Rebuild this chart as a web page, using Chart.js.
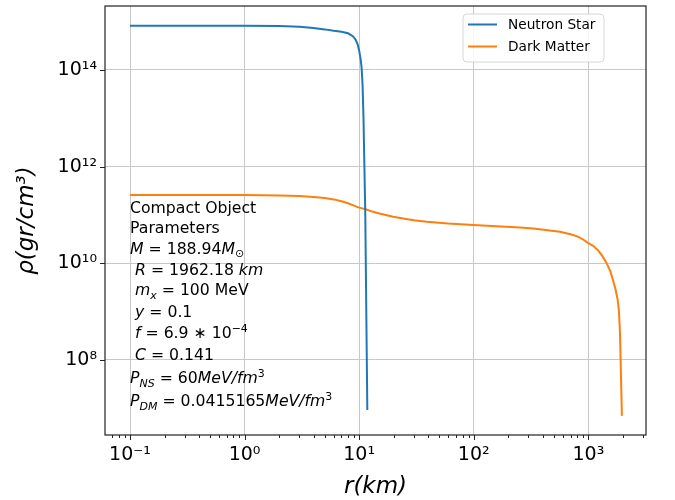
<!DOCTYPE html>
<html>
<head>
<meta charset="utf-8">
<script src="https://cdn.jsdelivr.net/npm/chart.js@4/dist/chart.umd.min.js"></script>
<style>
  html, body { margin: 0; padding: 0; background: #fff; }
  #wrap { width: 675px; height: 500px; }
</style>
</head>
<body>
<div id="wrap"><canvas id="chart" width="675" height="500"></canvas></div>
<script>
// density profiles, r in km, rho in gr/cm^3
const nsRadius = [0.1, 0.5, 1, 2, 3, 4, 5, 6, 7, 8, 8.8, 9.3, 9.7, 10.0, 10.3, 10.5, 10.7, 10.9, 11.3, 11.78];
const nsDensity = [8.26e14, 8.26e14, 8.24e14, 8.13e14, 7.87e14, 7.41e14, 6.92e14, 6.46e14, 6.17e14, 5.75e14,
  5.01e14, 4.27e14, 3.39e14, 2.51e14, 1.66e14, 1.12e14, 5.0e13, 1.07e13, 1.15e11, 9.1e6];

const dmRadius = [0.1, 1, 2, 3, 4, 5, 6, 7, 8, 9, 10, 11.6, 13, 15, 19.8, 25, 30, 39, 60, 99, 253, 331, 565, 700,
  811, 900, 991, 1100, 1213, 1330, 1445, 1550, 1641, 1730, 1803, 1850, 1889, 1962.18];
const dmDensity = [2.57e11, 2.57e11, 2.51e11, 2.45e11, 2.34e11, 2.24e11, 2.09e11, 1.91e11, 1.74e11, 1.55e11,
  1.41e11, 1.29e11, 1.17e11, 1.07e11, 9.12e10, 8.32e10, 7.76e10, 7.24e10, 6.61e10, 6.17e10, 5.5e10, 5.25e10,
  4.47e10, 3.98e10, 3.55e10, 3.09e10, 2.63e10, 2.29e10, 1.86e10, 1.38e10, 1.0e10, 6.92e9, 4.47e9, 2.82e9,
  1.74e9, 1.0e9, 3.55e8, 6.9e6];

const yMajorExponents = [8, 10, 12, 14];

const infoLines = [
  [{t: 'Compact Object'}],
  [{t: 'Parameters'}],
  [{t: 'M', it: true}, {t: ' = 188.94'}, {t: 'M', it: true}, {t: '\u2299', sub: true}],
  [{t: ' '}, {t: 'R', it: true}, {t: ' = 1962.18 '}, {t: 'km', it: true}],
  [{t: ' '}, {t: 'm', it: true}, {t: 'x', it: true, sub: true}, {t: ' = 100 MeV'}],
  [{t: ' '}, {t: 'y', it: true}, {t: ' = 0.1'}],
  [{t: ' '}, {t: 'f', it: true}, {t: ' = 6.9 \u2217 10'}, {t: '\u22124', sup: true}],
  [{t: ' '}, {t: 'C', it: true}, {t: ' = 0.141'}],
  [{t: 'P', it: true}, {t: 'NS', it: true, sub: true}, {t: ' = 60'}, {t: 'MeV/fm', it: true}, {t: '3', sup: true}],
  [{t: 'P', it: true}, {t: 'DM', it: true, sub: true}, {t: ' = 0.0415165'}, {t: 'MeV/fm', it: true}, {t: '3', sup: true}]
];
const infoGaps = [0, 20.5, 20.5, 21, 20.5, 22, 21, 22, 23, 23];

const SUP = {'-': '\u207B', '0': '\u2070', '1': '\u00B9', '2': '\u00B2', '3': '\u00B3', '4': '\u2074',
  '5': '\u2075', '6': '\u2076', '7': '\u2077', '8': '\u2078', '9': '\u2079'};
const pow10Label = e => '10' + String(e).split('').map(c => SUP[c]).join('');
const isDecade = v => Math.abs(Math.log10(v) - Math.round(Math.log10(v))) < 1e-9;

const FONT = '"DejaVu Sans", sans-serif';
const xMin = 0.0605, xMax = 3185;
const yMin = 2.77e6, yMax = 2.11e15;

function xTicks() {
  const out = [];
  for (let e = -2; e <= 3; e++) {
    for (let m = 1; m <= 9; m++) {
      const v = Number((m * Math.pow(10, e)).toPrecision(6));
      if (v >= xMin && v <= xMax) out.push({value: v});
    }
  }
  return out;
}

function drawRuns(ctx, x, y, runs, size) {
  for (const r of runs) {
    const small = r.sub || r.sup;
    const s = small ? size * 0.7 : size;
    ctx.font = (r.it ? 'italic ' : '') + s + 'px ' + FONT;
    const dy = r.sub ? size * 0.22 : r.sup ? -size * 0.42 : 0;
    ctx.fillText(r.t, x, y + dy);
    x += ctx.measureText(r.t).width;
  }
}

// no extra room around the axes for half-labels at the ends
function noScalePadding(scale) {
  scale.paddingTop = 0;
  scale.paddingBottom = 0;
  scale.paddingLeft = 0;
  scale.paddingRight = 0;
}

const decorations = {
  id: 'decorations',
  beforeDraw(chart) {
    const c = chart.ctx;
    c.save();
    c.fillStyle = '#fff';
    c.fillRect(0, 0, chart.width, chart.height);
    c.restore();
  },
  afterDraw(chart) {
    const c = chart.ctx;
    const a = chart.chartArea;
    const xs = chart.scales.x, ys = chart.scales.y;
    c.save();

    // tick marks, outward on the bottom and left spines
    c.strokeStyle = '#222';
    c.lineWidth = 1;
    c.beginPath();
    xs.ticks.forEach(t => {
      const px = Math.round(xs.getPixelForValue(t.value)) + 0.5;
      const len = isDecade(t.value) ? 5 : 3;
      c.moveTo(px, a.bottom);
      c.lineTo(px, a.bottom + len);
    });
    ys.ticks.forEach(t => {
      const py = Math.round(ys.getPixelForValue(t.value)) + 0.5;
      c.moveTo(a.left, py);
      c.lineTo(a.left - 5, py);
    });
    c.stroke();

    // frame
    c.lineWidth = 1.2;
    c.strokeRect(a.left, a.top, a.right - a.left, a.bottom - a.top);

    // parameter text block, anchored in data coordinates
    c.fillStyle = '#000';
    c.textBaseline = 'alphabetic';
    c.textAlign = 'left';
    let ty = ys.getPixelForValue(1.1e11);
    const tx = xs.getPixelForValue(0.1);
    infoLines.forEach((runs, i) => {
      ty += infoGaps[i];
      drawRuns(c, tx, ty, runs, 15.7);
    });

    // legend box
    const lw = 141, lh = 48;
    const lx = a.right - 183, ly = a.top + 8;
    c.beginPath();
    c.roundRect(lx, ly, lw, lh, 4);
    c.fillStyle = 'rgba(255,255,255,0.85)';
    c.fill();
    c.strokeStyle = '#d6d6d6';
    c.lineWidth = 1;
    c.stroke();
    chart.data.datasets.forEach((ds, i) => {
      const cy = ly + 10.5 + i * 22;
      c.strokeStyle = ds.borderColor;
      c.lineWidth = 2;
      c.beginPath();
      c.moveTo(lx + 5, cy);
      c.lineTo(lx + 34, cy);
      c.stroke();
      c.fillStyle = '#000';
      c.font = '13.7px ' + FONT;
      c.textBaseline = 'middle';
      c.fillText(ds.label, lx + 45, cy + 1);
    });
    c.restore();
  }
};

new Chart(document.getElementById('chart'), {
  type: 'scatter',
  data: {
    datasets: [
      {
        label: 'Neutron Star',
        data: nsRadius.map((r, i) => ({x: r, y: nsDensity[i]})),
        borderColor: '#1f77b4',
        borderWidth: 2,
        showLine: true,
        pointRadius: 0,
        tension: 0
      },
      {
        label: 'Dark Matter',
        data: dmRadius.map((r, i) => ({x: r, y: dmDensity[i]})),
        borderColor: '#ff7f0e',
        borderWidth: 2,
        showLine: true,
        pointRadius: 0,
        tension: 0
      }
    ]
  },
  options: {
    responsive: false,
    animation: false,
    layout: {padding: {top: 6, right: 29, left: 0, bottom: 0}},
    scales: {
      x: {
        type: 'logarithmic',
        min: xMin,
        max: xMax,
        afterBuildTicks(scale) { scale.ticks = xTicks(); },
        afterFit(scale) { scale.height = 65; noScalePadding(scale); },
        border: {display: false},
        grid: {
          drawTicks: false,
          lineWidth: 1,
          color: ctx => (ctx.tick && isDecade(ctx.tick.value)) ? '#c8c8c8' : 'rgba(0,0,0,0)'
        },
        ticks: {
          autoSkip: false,
          maxRotation: 0,
          padding: 9,
          color: '#000',
          font: {family: FONT, size: 19},
          callback: v => isDecade(v) ? pow10Label(Math.round(Math.log10(v))) : ''
        },
        title: {
          display: true,
          text: 'r(km)',
          color: '#000',
          font: {family: FONT, size: 23, style: 'italic', lineHeight: 1},
          padding: {top: 0, bottom: 1}
        }
      },
      y: {
        type: 'logarithmic',
        min: yMin,
        max: yMax,
        afterBuildTicks(scale) { scale.ticks = yMajorExponents.map(e => ({value: Math.pow(10, e)})); },
        afterFit(scale) { scale.width = 105; noScalePadding(scale); },
        border: {display: false},
        grid: {drawTicks: false, lineWidth: 1, color: '#c8c8c8'},
        ticks: {
          autoSkip: false,
          padding: 8,
          color: '#000',
          font: {family: FONT, size: 19},
          callback: v => pow10Label(Math.round(Math.log10(v)))
        },
        title: {
          display: true,
          text: '\u03C1(gr/cm\u00B3)',
          color: '#000',
          font: {family: FONT, size: 23, style: 'italic', lineHeight: 1},
          padding: {top: 16, bottom: 0}
        }
      }
    },
    plugins: {
      legend: {display: false},
      tooltip: {enabled: false}
    }
  },
  plugins: [decorations]
});
</script>
</body>
</html>
